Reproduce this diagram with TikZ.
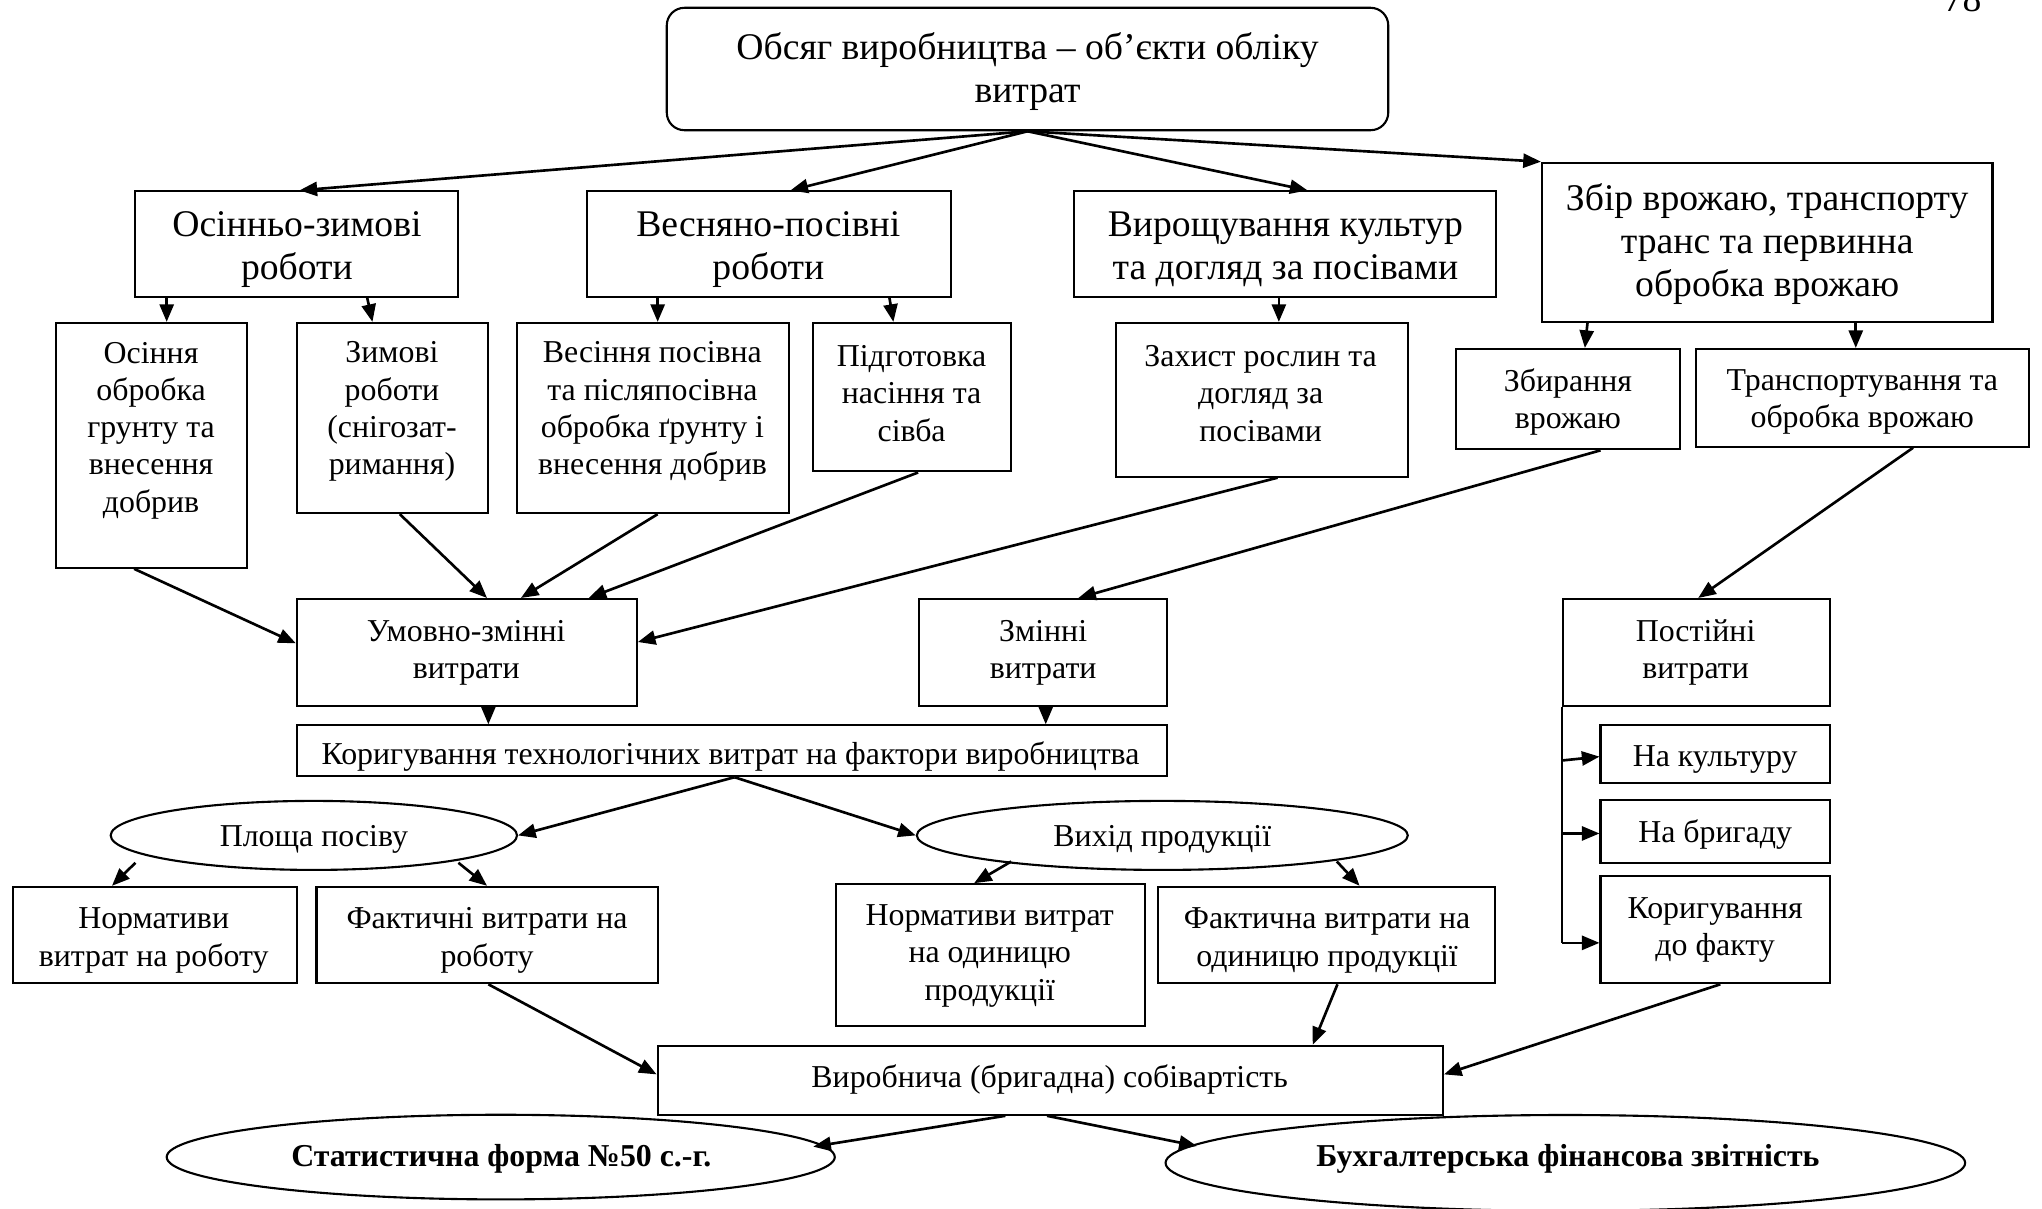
\documentclass[tikz,border=0pt]{standalone}
\usepackage{fontspec}
\setmainfont{Liberation Serif}
\usetikzlibrary{arrows.meta,shapes.geometric,fit,calc}
\begin{document}
\begin{tikzpicture}[x=0.013cm,y=-0.013cm,
 bx/.style={draw,line width=0.6pt,inner sep=0pt},
 ov/.style={draw,ellipse,line width=0.6pt,inner sep=0pt},
 tb/.style={font=\fontsize{10.7}{12.2}\selectfont,align=center,inner sep=0pt,yshift=-0.04cm},
 ts/.style={font=\fontsize{9.05}{10.6}\selectfont,align=center,inner sep=0pt,yshift=-0.04cm},
 ar/.style={line width=0.75pt,-{Triangle[length=5pt,width=4pt]}},
]
\useasboundingbox (0,0) rectangle (1568,928);
\node[tb,anchor=base,yshift=0.04cm] (pg) at (1507,9) {78};
% top
\node[bx,rounded corners=5pt,fit={(512,6)(1066,100)}] (top) {};
\node[tb] at (789,51.5) {Обсяг виробництва – об’єкти обліку\\витрат};
% level 2
\node[bx,fit={(104,147)(352,228)}] (oz) {};
\node[tb] at (228,188.5) {Осінньо-зимові\\роботи};
\node[bx,fit={(451,147)(730,228)}] (vp) {};
\node[tb] at (590,188.5) {Весняно-посівні\\роботи};
\node[bx,fit={(825,147)(1149,228)}] (vk) {};
\node[tb] at (987,188.5) {Вирощування культур\\та догляд за посівами};
\node[bx,fit={(1184,125)(1530,247)}] (zv) {};
\node[tb] at (1357,184.5) {Збір врожаю, транспорту\\транс та первинна\\обробка врожаю};
% level 3
\node[bx,fit={(43,248)(190,436)}] (osin) {};
\node[ts] at (116,327.5) {Осіння\\обробка\\грунту та\\внесення\\добрив};
\node[bx,fit={(228,248)(375,394)}] (zym) {};
\node[ts] at (301,313) {Зимові\\роботи\\(снігозат-\\римання)};
\node[bx,fit={(397,248)(606,394)}] (ves) {};
\node[ts] at (501,313) {Весіння посівна\\та післяпосівна\\обробка ґрунту і\\внесення добрив};
\node[bx,fit={(624,248)(776,362)}] (pidg) {};
\node[ts] at (700,299) {Підготовка\\насіння та\\сівба};
\node[bx,fit={(857,248)(1081,366)}] (zah) {};
\node[ts] at (968,299) {Захист рослин та\\догляд за\\посівами};
\node[bx,fit={(1118,268)(1290,345)}] (zbyr) {};
\node[ts] at (1204,305.5) {Збирання\\врожаю};
\node[bx,fit={(1302,268)(1558,343)}] (trans) {};
\node[ts] at (1430,305.5) {Транспортування та\\обробка врожаю};
% level 4
\node[bx,fit={(228,460)(489,542)}] (umz) {};
\node[ts] at (358,498) {Умовно-змінні\\витрати};
\node[bx,fit={(706,460)(896,542)}] (zmin) {};
\node[ts] at (801,498) {Змінні\\витрати};
\node[bx,fit={(1200,460)(1405,542)}] (post) {};
\node[ts] at (1302,498) {Постійні\\витрати};
\node[bx,fit={(228,557)(896,596)}] (kor) {};
\begin{scope}
\clip (228,557) rectangle (896,593);
\node[ts,anchor=base,yshift=0.04cm] at (561,587) {Коригування технологічних витрат на фактори виробництва};
\end{scope}
\node[bx,fit={(1229,557)(1405,601)}] (nakul) {};
\node[ts] at (1317,580) {На культуру};
\node[bx,fit={(1229,614)(1405,663)}] (nabr) {};
\node[ts] at (1317,638) {На бригаду};
\node[bx,fit={(1229,673)(1405,755)}] (korf) {};
\node[ts] at (1317,711) {Коригування\\до факту};
% ellipses
\node[ov,minimum width=4.056cm,minimum height=0.689cm] (plos) at (241,641.5) {};
\node[ts] at (plos.center) {Площа посіву};
\node[ov,minimum width=4.901cm,minimum height=0.689cm] (vyh) at (892.5,641.5) {};
\node[ts] at (vyh.center) {Вихід продукції};
% level 6
\node[bx,fit={(10,681)(228,755)}] (nr) {};
\node[ts] at (118,719) {Нормативи\\витрат на роботу};
\node[bx,fit={(243,681)(505,755)}] (fr) {};
\node[ts] at (374,719) {Фактичні витрати на\\роботу};
\node[bx,fit={(642,679)(879,788)}] (no) {};
\node[ts] at (760,731) {Нормативи витрат\\на одиницю\\продукції};
\node[bx,fit={(889,681)(1148,755)}] (fo) {};
\node[ts] at (1019,719) {Фактична витрати на\\одиницю продукції};
\node[bx,fit={(505,803)(1108,856)}] (vyr) {};
\node[ts] at (806,826) {Виробнича (бригадна) собівартість};
% bottom ellipses
\node[ov,minimum width=6.669cm,minimum height=0.845cm] (stat) at (384.5,888.5) {};
\node[ts,font=\fontsize{9.05}{10.6}\selectfont\bfseries] at (385,887) {Статистична форма №50 с.-г.};
\node[ov,minimum width=7.982cm,minimum height=0.957cm] (buh) at (1202,893) {};
\node[ts,font=\fontsize{9.05}{10.6}\selectfont\bfseries] at (1204,887) {Бухгалтерська фінансова звітність};
% arrows top
\draw[ar] (top.south) -- (oz.north -| 230,0);
\draw[ar] (top.south) -- (vp.north -| 607,0);
\draw[ar] (top.south) -- (vk.north -| 1004,0);
\draw[ar] (top.south) -- (zv.north west);
% level 2 -> 3
\draw[ar] (oz.south -| 128,0) -- (osin.north -| 128,0);
\draw[ar] (oz.south -| 282,0) -- (zym.north -| 286,0);
\draw[ar] (vp.south -| 505,0) -- (ves.north -| 505,0);
\draw[ar] (vp.south -| 683,0) -- (pidg.north -| 686,0);
\draw[ar] (vk.south -| 982,0) -- (zah.north -| 982,0);
\draw[ar] (zv.south -| 1219,0) -- (zbyr.north -| 1217,0);
\draw[ar] (zv.south -| 1425,0) -- (trans.north -| 1425,0);
% level 3 -> 4
\draw[ar] (osin.south -| 103,0) -- (umz.west |- 0,494);
\draw[ar] (zym.south -| 307,0) -- (umz.north -| 374,0);
\draw[ar] (ves.south -| 505,0) -- (umz.north -| 400,0);
\draw[ar] (pidg.south -| 705,0) -- (umz.north -| 452,0);
\draw[ar] (zah.south -| 981,0) -- (umz.east |- 0,493);
\draw[ar] (zbyr.south -| 1229,0) -- (zmin.north -| 828,0);
\draw[ar] (trans.south -| 1469,0) -- (post.north -| 1304,0);
% level 4 -> kor
\draw[ar] (umz.south -| 375,0) -- (kor.north -| 375,0);
\draw[ar] (zmin.south -| 803,0) -- (kor.north -| 803,0);
% post branch
\coordinate (pl) at (post.south west);
\draw[line width=0.5pt] (pl) -- (pl |- 0,724);
\draw[ar] (pl |- 0,724) -- (korf.west |- 0,724);
\draw[ar] (pl |- 0,584) -- (nakul.west |- 0,581);
\draw[ar] (pl |- 0,640) -- (nabr.west |- 0,640);
% kor -> ellipses
\draw[ar] (kor.south -| 564,0) -- (plos.east);
\draw[ar] (kor.south -| 564,0) -- (vyh.west);
% ellipses -> level 6
\draw[ar] ($(plos.center)+(-137,21)$) -- (nr.north -| 86,0);
\draw[ar] ($(plos.center)+(111,21)$) -- (fr.north -| 374,0);
\draw[ar] ($(vyh.center)+(-116,20)$) -- (no.north -| 748,0);
\draw[ar] ($(vyh.center)+(134,20)$) -- (fo.north -| 1044,0);
% -> vyr
\draw[ar] (fr.south -| 375,0) -- (vyr.west |- 0,825);
\draw[ar] (fo.south -| 1027,0) -- (vyr.north -| 1008,0);
\draw[ar] (korf.south -| 1321,0) -- (vyr.east |- 0,825);
% vyr -> bottom
\draw[ar] (vyr.south -| 772,0) -- ($(stat.center)+(240,-8)$);
\draw[ar] (vyr.south -| 804,0) -- ($(buh.center)+(-283,-13)$);
\end{tikzpicture}
\end{document}
